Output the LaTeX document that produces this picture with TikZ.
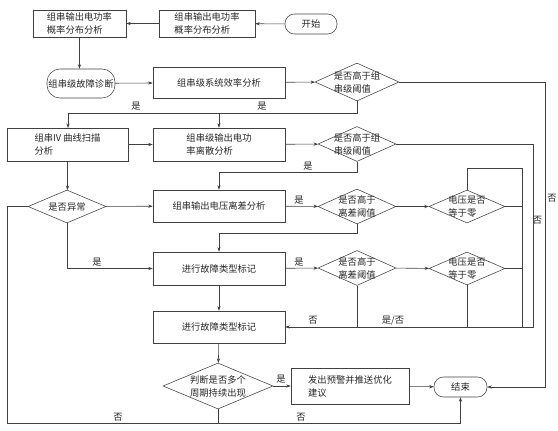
\documentclass[tikz,border=0pt]{standalone}
\usepackage{fontspec}
\usetikzlibrary{shapes.geometric,arrows.meta}
\newfontfamily\cjk{Noto Sans CJK SC}
\begin{document}
\begin{tikzpicture}[x=1pt,y=-1pt,
  every node/.style={font=\cjk\fontsize{9.3}{13}\selectfont, text=black!85},
  line/.style={draw=black!75, line width=0.55pt},
  arr/.style={line, -{Stealth[length=4.5pt,width=3.2pt]}},
  box/.style={draw=black!75, line width=0.55pt, rectangle, inner sep=0pt, align=left, minimum width=#1},
  term/.style={draw=black!75, line width=0.55pt, rectangle, rounded corners=9.5pt, inner sep=0pt},
  dia/.style={draw=black!75, line width=0.55pt, diamond, inner sep=0pt},
  lab/.style={inner sep=0pt}
]
\useasboundingbox (0,0) rectangle (558,431);
% nodes
\node[term, minimum width=52pt, minimum height=20pt] (start) at (311,24) {开始};
\node[box=96pt, minimum height=27pt] (b2) at (207,23.5) {组串输出电功率\\概率分布分析};
\node[box=93pt, minimum height=27pt] (b1) at (79.5,23.5) {组串输出电功率\\概率分布分析};
\node[term, rounded corners=13pt, minimum width=68pt, minimum height=29pt] (diag) at (81,83.5) {组串级故障诊断};
\node[box=132pt, minimum height=31pt] (eff) at (219,82.5) {组串级系统效率分析};
\node[dia, minimum width=84pt, minimum height=38pt, label={[align=left,lab]center:是否高于组\\串级阈值}] (d1) at (357,82) {};
\node[box=121pt, minimum height=33pt] (iv) at (67.5,144.5) {组串IV 曲线扫描\\分析};
\node[box=132pt, minimum height=33pt] (disp) at (219,144.5) {组串级输出电功\\率离散分析};
\node[dia, minimum width=78pt, minimum height=35pt, label={[align=left,lab]center:是否高于组\\串级阈值}] (d2) at (357,144) {};
\node[dia, minimum width=78pt, minimum height=33pt, label={[lab]center:是否异常}] (abn) at (67,206.5) {};
\node[box=132pt, minimum height=32pt] (volt) at (219,206) {组串输出电压离差分析};
\node[dia, minimum width=78pt, minimum height=35pt, label={[align=left,lab]center:是否高于\\离差阈值}] (d3) at (357,206.5) {};
\node[dia, minimum width=76pt, minimum height=33pt, label={[align=left,lab]center:电压是否\\等于零}] (d4) at (467,206.5) {};
\node[box=132pt, minimum height=33pt] (m1) at (219,268.5) {进行故障类型标记};
\node[dia, minimum width=78pt, minimum height=35pt, label={[align=left,lab]center:是否高于\\离差阈值}] (d5) at (357,268) {};
\node[dia, minimum width=76pt, minimum height=33pt, label={[align=left,lab]center:电压是否\\等于零}] (d6) at (467,268.5) {};
\node[box=132pt, minimum height=32pt] (m2) at (219,327) {进行故障类型标记};
\node[dia, minimum width=110pt, minimum height=46pt, label={[align=left,lab]center:判断是否多个\\周期持续出现}] (judge) at (218,386) {};
\node[box=118pt, minimum height=36pt] (warn) at (350,386) {发出预警并推送优化\\建议};
\node[term, minimum width=53pt, minimum height=20pt] (end) at (460.5,387) {结束};
% junction coordinates
\coordinate (j1) at (219,113);
\coordinate (c533) at (533,327);
\coordinate (c522) at (522,327);
\coordinate (bot) at (218,423);
% connectors
\draw[arr] (start) -- (b2);
\draw[arr] (b2) -- (b1);
\draw[arr] (b1.south) -- (b1.south |- diag.north);
\draw[arr] (diag) -- (eff);
\draw[arr] (eff) -- (d1);
\draw[arr] (d1.east) -- (545,82) -- node[lab, right=2pt, pos=0.38] {否} (545,387) -- (end.east);
\draw[arr] (d1.south) -- (357,113) -- (68,113) -- (68,128);
\node[lab] (l1) at (136,106.5) {是};
\draw[arr] (j1) -- (disp.north);
\node[lab] (l2) at (262,106.5) {是};
\draw[arr] (iv) -- (disp);
\draw[arr] (iv.south) -- (67.5,190);
\draw[arr] (disp) -- (d2);
\draw[arr] (d2.east) -- (533,144) -- (c533) -- (m2.east);
\node[lab] (l3) at (537.5,220) {否};
\node[lab] (l4) at (313,320.5) {否};
\node[lab] (l5) at (393,320.5) {是/否};
\draw[arr] (d2.south) -- (357,172) -- (219,172) -- (volt.north);
\node[lab] (l6) at (308,166.5) {是};
\draw[arr] (abn) -- (volt);
\draw[arr] (abn.west) -- (7,206.5) -- (7,423) -- (460.5,423) -- (end.south);
\node[lab] (l7) at (118,417) {否};
\node[lab] (l8) at (301,417) {否};
\draw[arr] (abn.south) -- (67,268.5) -- (m1.west);
\node[lab] (l9) at (97,262) {是};
\draw[arr] (volt) -- (d3);
\node[lab] (l10) at (299,200) {是};
\draw[arr] (d3) -- (d4);
\draw[arr] (d3.south) -- (357,233) -- (219,233) -- (m1.north);
\draw[line] (d4.north) -- (467,168) -- (522,168) -- (c522);
\draw[line] (d4.east) -- (522,206.5);
\draw[arr] (m1) -- (d5);
\node[lab] (l11) at (299,262) {是};
\draw[arr] (d5) -- (d6);
\draw[line] (d6.east) -- (522,268.5);
\draw[line] (d6.south) -- (467,327);
\draw[line] (d5.south) -- (357,327);
\draw[arr] (m1) -- (m2);
\draw[arr] (m2) -- (judge);
\draw[arr] (judge) -- (warn);
\node[lab] (l12) at (281,379) {是};
\draw[arr] (warn) -- (end);
\draw[line] (judge.south) -- (bot);
\end{tikzpicture}
\end{document}
